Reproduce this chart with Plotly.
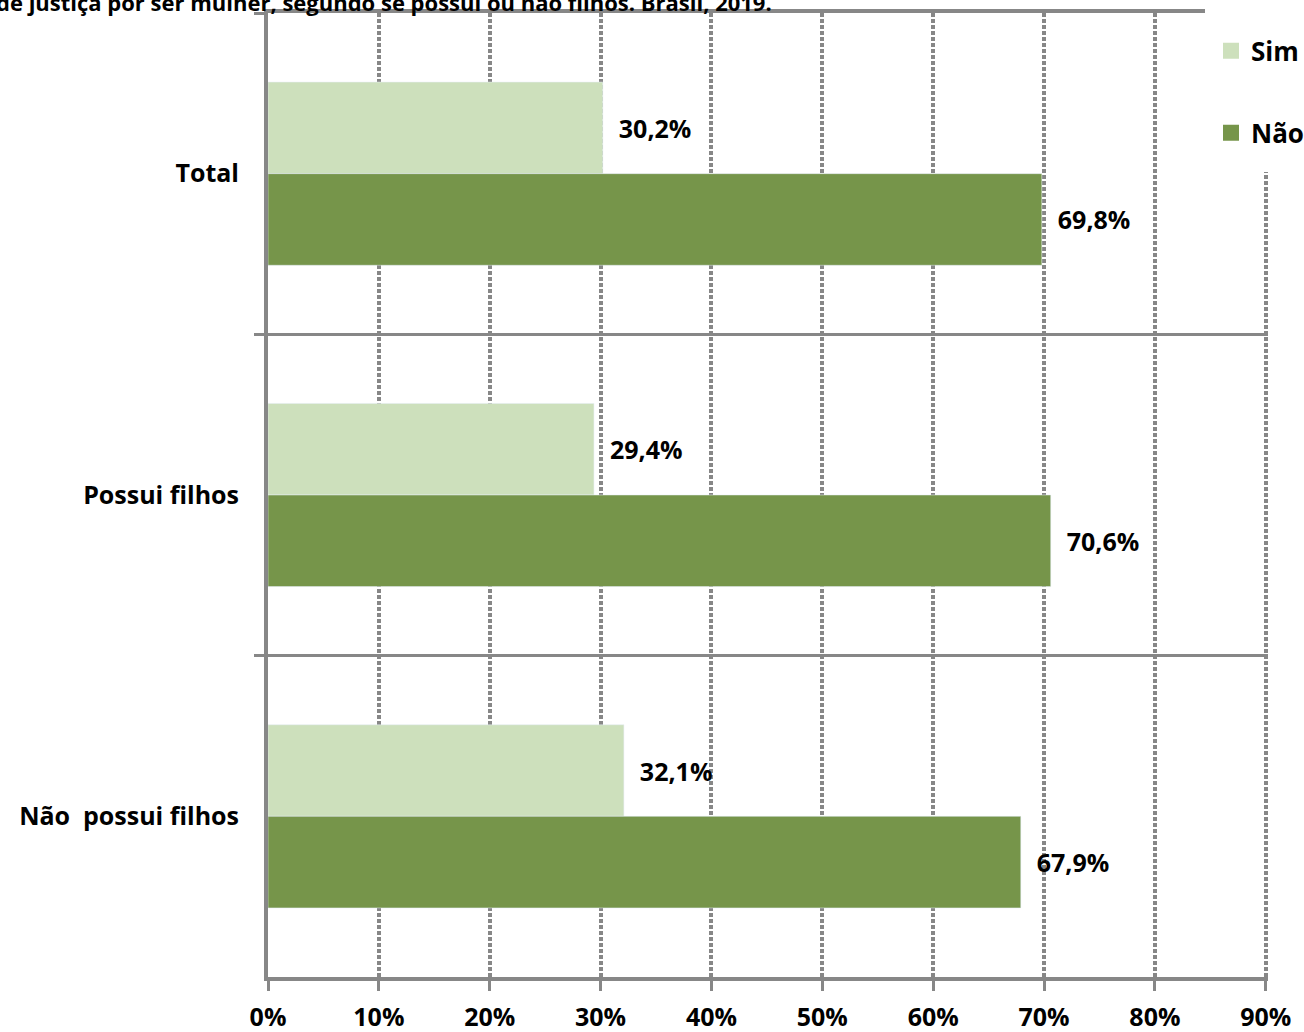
import plotly.graph_objects as go

categorias = ["Total", "Possui filhos", "Não  possui filhos"]
sim = [30.2, 29.4, 32.1]
nao = [69.8, 70.6, 67.9]
titulo = "de justiça por ser mulher, segundo se possui ou não filhos. Brasil, 2019."

FONTE = "Open Sans"
CINZA = "#878787"
COR_SIM = "#cde0bc"
COR_NAO = "#76954a"
PAD = "\u00a0\u00a0"

fig = go.Figure()
fig.add_trace(go.Bar(
    y=categorias, x=sim, name="Sim", orientation="h",
    marker_color=COR_SIM, showlegend=False,
    texttemplate=PAD + "%{x:.1f}%", textposition="outside",
    cliponaxis=False,
))
fig.add_trace(go.Bar(
    y=categorias, x=nao, name="Não", orientation="h",
    marker_color=COR_NAO, showlegend=False,
    texttemplate=PAD + "%{x:.1f}%", textposition="outside",
    cliponaxis=False,
))
# legend entries with bigger square symbols
for nome, cor in [("Sim", COR_SIM), ("Não", COR_NAO)]:
    fig.add_trace(go.Scatter(
        x=[None], y=[None], mode="markers", name=nome, legendgroup=nome,
        marker=dict(symbol="square", size=20, color=cor),
    ))

fig.update_traces(
    selector=dict(type="bar"),
    textfont=dict(family=FONTE, size=25, color="black", weight="bold"),
)

fig.update_layout(
    width=1304, height=1032,
    margin=dict(l=268, r=36, t=13, b=55, autoexpand=False),
    plot_bgcolor="white", paper_bgcolor="white",
    barmode="group", bargap=0.43, bargroupgap=0,
    separators=",.",
    font=dict(family=FONTE, size=25, color="black", weight="bold"),
    showlegend=True,
    legend=dict(
        x=0.943, y=0.985, xanchor="left", yanchor="top",
        bgcolor="white", font=dict(size=26, family=FONTE, weight="bold", color="black"),
        tracegroupgap=45, traceorder="grouped", itemsizing="trace",
    ),
    xaxis=dict(
        # a hair past 90 so the 90% gridline is still drawn
        range=[0, 90.2], tick0=0, dtick=10, ticksuffix="%",
        showgrid=True, gridcolor=CINZA, gridwidth=3.5, griddash="4px,2px",
        showline=True, mirror=True, linecolor=CINZA, linewidth=4,
        ticks="outside", ticklen=10, tickwidth=3, tickcolor=CINZA,
        zeroline=False, ticklabelstandoff=5,
        tickfont=dict(size=25, family=FONTE, weight="bold", color="black"),
    ),
    yaxis=dict(
        autorange="reversed", tickson="boundaries",
        showgrid=True, gridcolor=CINZA, gridwidth=3,
        showline=True, linecolor=CINZA, linewidth=4,
        ticks="outside", ticklen=10, tickwidth=3, tickcolor=CINZA,
        ticklabelstandoff=20,
        tickfont=dict(size=25, family=FONTE, weight="bold", color="black"),
    ),
    shapes=[dict(
        type="rect", xref="paper", yref="paper",
        x0=0.937, x1=1.04, y0=0.835, y1=1.02,
        fillcolor="white", line_width=0, layer="above",
    )],
    annotations=[dict(
        text=titulo, xref="paper", yref="paper",
        x=-0.2745, y=0.994, xanchor="left", yanchor="bottom",
        showarrow=False, font=dict(size=22, family=FONTE, weight="bold", color="black"),
    )],
)

# the page's default 8px body margin would shift the whole chart
fig.write_html(
    "out.html",
    config={"displayModeBar": False},
    post_script="document.body.style.margin = '0px';",
)
